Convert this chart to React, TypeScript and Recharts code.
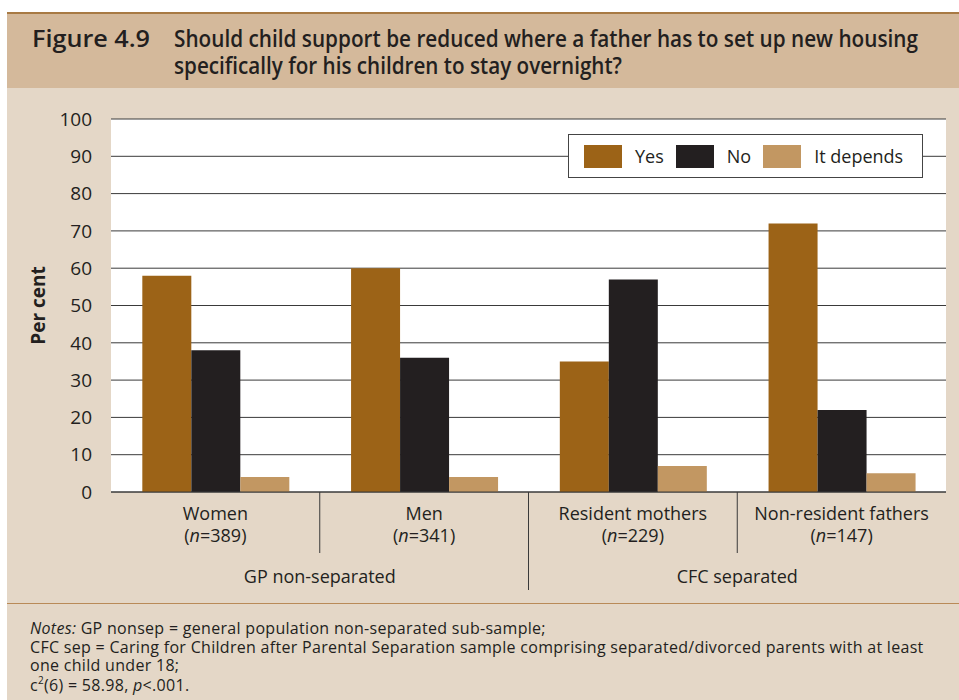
import React from 'react';
import { BarChart, Bar, XAxis, YAxis, CartesianGrid } from 'recharts';

const categories = ['Women', 'Men', 'Resident mothers', 'Non-resident fathers'];
const sampleSizes = ['389', '341', '229', '147'];
const groupNames = ['GP non-separated', 'CFC separated'];
const groupStarts = [0, 2];
const yesValues = [58, 60, 35, 72];
const noValues = [38, 36, 57, 22];
const dependsValues = [4, 4, 7, 5];
const yTicks = [0, 10, 20, 30, 40, 50, 60, 70, 80, 90, 100];

const series = [
  { key: 'yes', name: 'Yes', color: '#9c6317' },
  { key: 'no', name: 'No', color: '#231f20' },
  { key: 'depends', name: 'It depends', color: '#c29762' },
];

const data = categories.map((c, i) => ({
  category: c,
  n: sampleSizes[i],
  yes: yesValues[i],
  no: noValues[i],
  depends: dependsValues[i],
}));

const CHART_W = 959;
const CHART_H = 515;
const Y_AXIS_W = 111;
const MARGIN_RIGHT = 13;
const BAND = (CHART_W - Y_AXIS_W - MARGIN_RIGHT) / categories.length;

const TEXT = '#231f20';
const FONT = '"Open Sans", "Noto Sans", sans-serif';

const CategoryTick = (props: any) => {
  const { x, y, index, payload } = props;
  const groupIdx = groupStarts.indexOf(index);
  const isGroupBoundary = index > 0 && groupIdx >= 0;
  return (
    <g>
      {index > 0 && (
        <line
          x1={x - BAND / 2}
          x2={x - BAND / 2}
          y1={y}
          y2={y + (isGroupBoundary ? 98 : 61)}
          stroke="#3a3a3a"
          strokeWidth={1}
        />
      )}
      <text x={x} y={y + 28} textAnchor="middle" fontSize={18} fill={TEXT} fontFamily={FONT}>
        {payload.value}
      </text>
      <text x={x} y={y + 50} textAnchor="middle" fontSize={18} fill={TEXT} fontFamily={FONT}>
        (<tspan fontStyle="italic">n</tspan>={sampleSizes[index]})
      </text>
      {groupIdx >= 0 && (
        <text x={x + BAND / 2} y={y + 91} textAnchor="middle" fontSize={18} fill={TEXT} fontFamily={FONT}>
          {groupNames[groupIdx]}
        </text>
      )}
    </g>
  );
};

const LegendBox = () => (
  <div
    style={{
      position: 'absolute',
      left: 568,
      top: 134,
      width: 355,
      height: 44,
      background: '#fff',
      border: '1px solid #444',
      display: 'flex',
      alignItems: 'center',
      paddingLeft: 15,
      boxSizing: 'border-box',
      fontFamily: FONT,
      fontSize: 18,
      color: TEXT,
    }}
  >
    {series.map((s) => (
      <div key={s.key} style={{ display: 'flex', alignItems: 'center', marginRight: 12 }}>
        <span style={{ width: 38, height: 23, background: s.color, display: 'inline-block', marginRight: 13 }} />
        <span>{s.name}</span>
      </div>
    ))}
  </div>
);

// title drawn as svg text so it can be squeezed to the condensed width of the original
const Header = () => (
  <svg width={952} height={76} style={{ position: 'absolute', left: 7, top: 12 }}>
    <rect x={0} y={0} width={952} height={76} fill="#d4b99b" />
    <line x1={0} x2={952} y1={1} y2={1} stroke="#a87a44" strokeWidth={2} />
    <g fontFamily={FONT} fontWeight={600} fontSize={23} fill={TEXT}>
      <text x={25} y={35} textLength={118} lengthAdjust="spacingAndGlyphs">
        Figure 4.9
      </text>
      <text x={167} y={35} textLength={744} lengthAdjust="spacingAndGlyphs">
        Should child support be reduced where a father has to set up new housing
      </text>
      <text x={167} y={62} textLength={448} lengthAdjust="spacingAndGlyphs">
        specifically for his children to stay overnight?
      </text>
    </g>
  </svg>
);

const noteStyle: React.CSSProperties = {
  position: 'absolute',
  left: 30,
  fontFamily: FONT,
  fontSize: 16,
  letterSpacing: 0.3,
  lineHeight: '18px',
  color: TEXT,
  whiteSpace: 'nowrap',
};

export default function App() {
  return (
    <div
      style={{
        position: 'absolute',
        left: 0,
        top: 0,
        width: 959,
        height: 700,
        background: '#fff',
        overflow: 'hidden',
      }}
    >
      <div style={{ position: 'absolute', left: 7, top: 13, right: 0, bottom: 0, background: '#e4d7c7' }} />
      <Header />

      <div style={{ position: 'absolute', left: 0, top: 88 }}>
        <BarChart
          width={CHART_W}
          height={CHART_H}
          data={data}
          margin={{ top: 31, right: MARGIN_RIGHT, left: 0, bottom: 0 }}
          barCategoryGap="15%"
          barGap={0}
        >
          <CartesianGrid vertical={false} stroke="#3a3a3a" fill="#ffffff" fillOpacity={1} />
          <XAxis
            dataKey="category"
            height={111}
            tickLine={false}
            tickSize={0}
            tickMargin={0}
            axisLine={{ stroke: '#3a3a3a' }}
            tick={<CategoryTick />}
            interval={0}
          />
          <YAxis
            width={Y_AXIS_W}
            domain={[0, 100]}
            ticks={yTicks}
            tickLine={false}
            axisLine={false}
            tickMargin={13}
            tick={{ fontSize: 19, fill: TEXT, fontFamily: FONT }}
            label={{
              value: 'Per cent',
              angle: -90,
              position: 'insideLeft',
              offset: 38,
              style: { fontSize: 19, fontWeight: 'bold', fill: TEXT, fontFamily: FONT, textAnchor: 'middle' },
            }}
          />
          {series.map((s) => (
            <Bar key={s.key} dataKey={s.key} name={s.name} fill={s.color} isAnimationActive={false} />
          ))}
        </BarChart>
      </div>

      <LegendBox />

      {/* notes */}
      <div style={{ position: 'absolute', left: 7, right: 0, top: 603, borderTop: '1px solid #b98a58' }} />
      <div style={{ ...noteStyle, top: 619 }}>
        <i>Notes:</i> GP nonsep = general population non-separated sub-sample;
      </div>
      <div style={{ ...noteStyle, top: 638 }}>
        CFC sep = Caring for Children after Parental Separation sample comprising separated/divorced parents with at least
      </div>
      <div style={{ ...noteStyle, top: 656 }}>one child under 18;</div>
      <div style={{ ...noteStyle, top: 676 }}>
        c<sup style={{ fontSize: 10, lineHeight: 0, verticalAlign: 7 }}>2</sup>(6) = 58.98, <i>p</i>&lt;.001.
      </div>
    </div>
  );
}
